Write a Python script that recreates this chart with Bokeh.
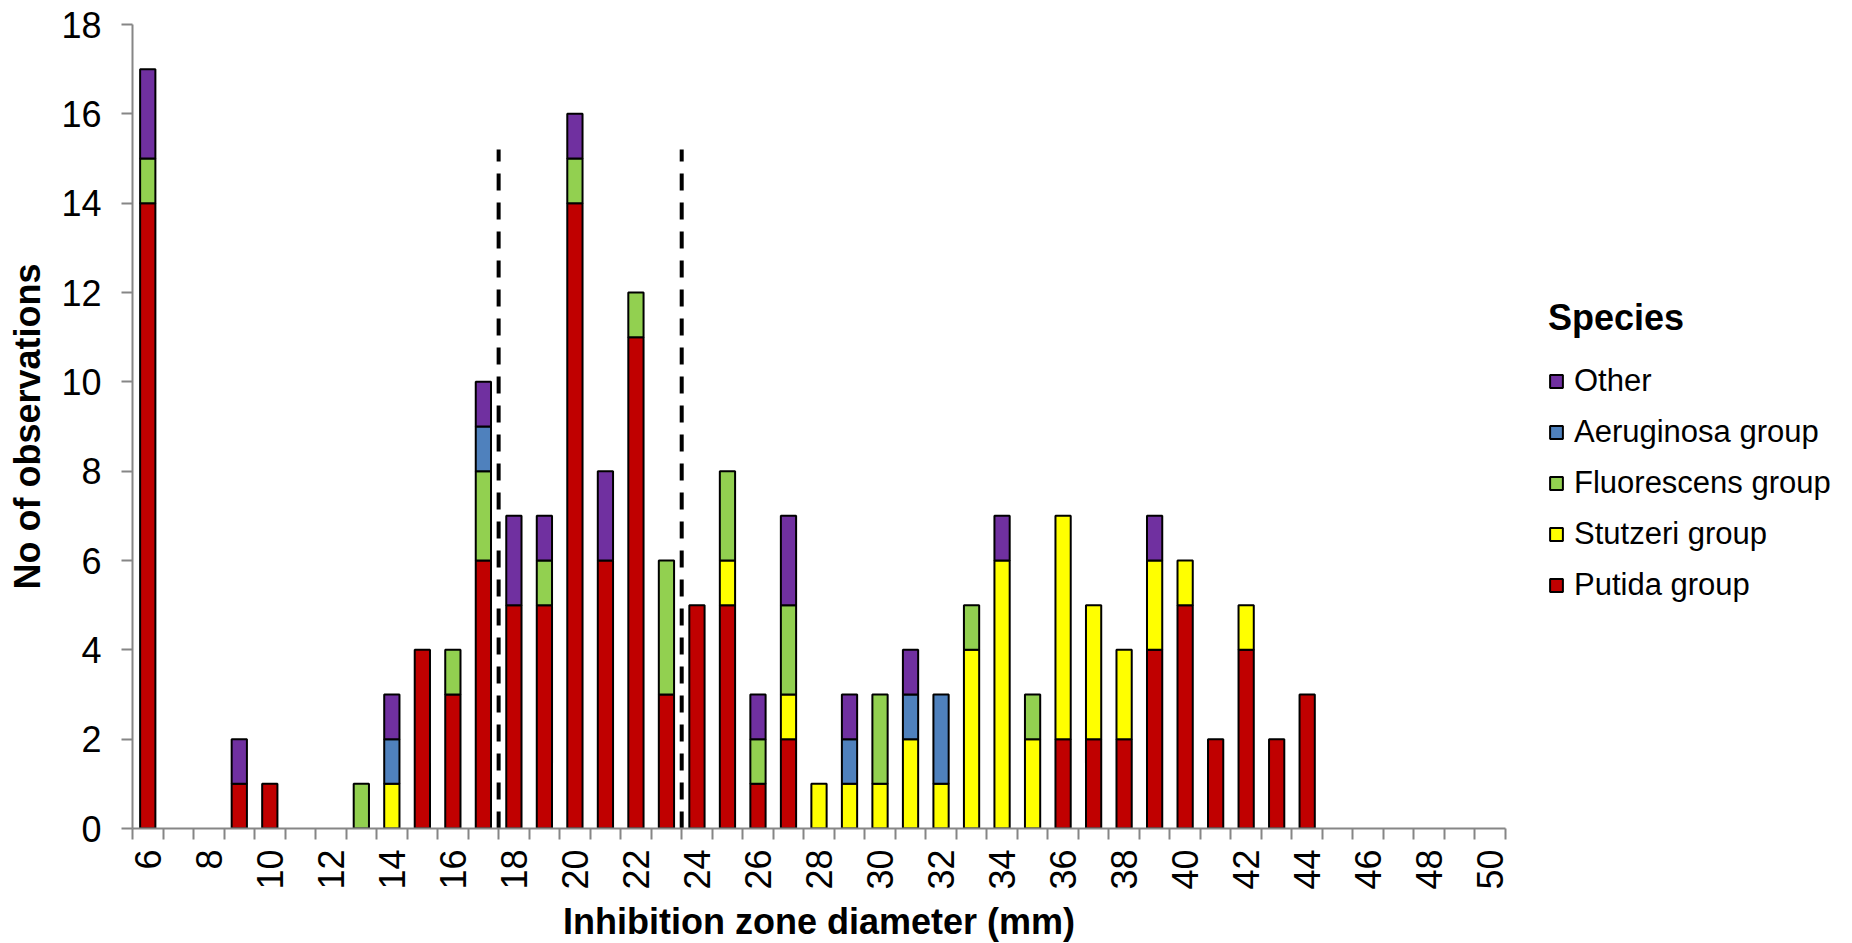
import math
from bokeh.plotting import figure
from bokeh.models import FixedTicker, Legend, LegendItem, ColumnDataSource, Range1d
from bokeh.embed import file_html
from bokeh.resources import INLINE

# ---------------- data ----------------
diameters = list(range(6, 51))  # inhibition zone diameter (mm), one category each

putida = [14, 0, 0, 1, 1, 0, 0, 0, 0, 4,
          3, 6, 5, 5, 14, 6, 11, 3, 5, 5,
          1, 2, 0, 0, 0, 0, 0, 0, 0, 0,
          2, 2, 2, 4, 5, 2, 4, 2, 3,
          0, 0, 0, 0, 0, 0]
stutzeri = [0, 0, 0, 0, 0, 0, 0, 0, 1, 0,
            0, 0, 0, 0, 0, 0, 0, 0, 0, 1,
            0, 1, 1, 1, 1, 2, 1, 4, 6, 2,
            5, 3, 2, 2, 1, 0, 1, 0, 0,
            0, 0, 0, 0, 0, 0]
fluorescens = [1, 0, 0, 0, 0, 0, 0, 1, 0, 0,
               1, 2, 0, 1, 1, 0, 1, 3, 0, 2,
               1, 2, 0, 0, 2, 0, 0, 1, 0, 1,
               0, 0, 0, 0, 0, 0, 0, 0, 0,
               0, 0, 0, 0, 0, 0]
aeruginosa = [0, 0, 0, 0, 0, 0, 0, 0, 1, 0,
              0, 1, 0, 0, 0, 0, 0, 0, 0, 0,
              0, 0, 0, 1, 0, 1, 2, 0, 0, 0,
              0, 0, 0, 0, 0, 0, 0, 0, 0,
              0, 0, 0, 0, 0, 0]
other = [2, 0, 0, 1, 0, 0, 0, 0, 1, 0,
         0, 1, 2, 1, 1, 2, 0, 0, 0, 0,
         1, 2, 0, 1, 0, 1, 0, 0, 1, 0,
         0, 0, 0, 1, 0, 0, 0, 0, 0,
         0, 0, 0, 0, 0, 0]

series_names = ["Putida group", "Stutzeri group", "Fluorescens group", "Aeruginosa group", "Other"]
series_values = [putida, stutzeri, fluorescens, aeruginosa, other]
series_colors = ["#C00000", "#FFFF00", "#92D050", "#4F81BD", "#7030A0"]

breakpoints = [17.5, 23.5]      # dashed separator positions (between categories)
breakpoint_top = 15.2

y_ticks = list(range(0, 19, 2))
x_tick_labels = diameters[::2]

FONT = "Liberation Sans"
GREY = "#868686"

# ---------------- source ----------------
data = dict(d=diameters)
keys = ["s%d" % i for i in range(len(series_names))]
for k, vals in zip(keys, series_values):
    data[k] = vals
    data["lc_" + k] = ["black" if v > 0 else "#00000000" for v in vals]
src = ColumnDataSource(data)

# ---------------- figure ----------------
p = figure(frame_width=1373, frame_height=804,
           x_range=Range1d(diameters[0] - 0.5, diameters[-1] + 0.5),
           y_range=Range1d(0, 18),
           output_backend="svg", toolbar_location=None,
           min_border_left=132, min_border_right=20,
           min_border_top=24, min_border_bottom=112)
p.outline_line_color = None
p.xgrid.visible = False
p.ygrid.visible = False
p.background_fill_color = "white"
p.border_fill_color = "white"

renderers = p.vbar_stack(keys, x="d", width=0.5, source=src,
                         fill_color=series_colors,
                         line_color=["lc_" + k for k in keys],
                         line_width=2)

p.segment(x0=breakpoints, y0=[0] * len(breakpoints),
          x1=breakpoints, y1=[breakpoint_top] * len(breakpoints),
          line_color="black", line_width=4, line_dash="17 12")

# x axis
xa = p.xaxis[0]
xa.ticker = FixedTicker(ticks=x_tick_labels,
                        minor_ticks=[d - 0.5 for d in diameters] + [diameters[-1] + 0.5])
xa.major_tick_line_color = None
xa.major_tick_out = 11
xa.major_tick_in = 0
xa.minor_tick_in = 0
xa.minor_tick_out = 11
xa.minor_tick_line_color = GREY
xa.minor_tick_line_width = 2
xa.axis_line_color = GREY
xa.axis_line_width = 2
xa.major_label_orientation = math.pi / 2
xa.major_label_text_font = FONT
xa.major_label_text_font_size = "36px"
xa.major_label_text_color = "black"
xa.major_label_standoff = 10
xa.axis_label = "Inhibition zone diameter (mm)"
xa.axis_label_text_font = FONT
xa.axis_label_text_font_size = "36px"
xa.axis_label_text_font_style = "bold"
xa.axis_label_text_color = "black"
xa.axis_label_standoff = 8

# y axis
ya = p.yaxis[0]
ya.ticker = FixedTicker(ticks=y_ticks, minor_ticks=[])
ya.major_tick_out = 11
ya.major_tick_in = 0
ya.major_tick_line_color = GREY
ya.major_tick_line_width = 2
ya.minor_tick_line_color = None
ya.axis_line_color = GREY
ya.axis_line_width = 2
ya.major_label_text_font = FONT
ya.major_label_text_font_size = "36px"
ya.major_label_text_color = "black"
ya.major_label_standoff = 20
ya.axis_label = "No of observations"
ya.axis_label_text_font = FONT
ya.axis_label_text_font_size = "36px"
ya.axis_label_text_font_style = "bold"
ya.axis_label_text_color = "black"
ya.axis_label_standoff = 10

# legend (top item = last stacked series)
items = []
for name, vals, r in reversed(list(zip(series_names, series_values, renderers))):
    idx = next(i for i, v in enumerate(vals) if v > 0)
    items.append(LegendItem(label=name, renderers=[r], index=idx))

legend = Legend(items=items, location=(43, 225), title="Species",
                title_text_font=FONT, title_text_font_size="36px",
                title_text_font_style="bold", title_text_color="black",
                title_standoff=24,
                label_text_font=FONT, label_text_font_size="31px",
                label_text_color="black",
                glyph_width=16, glyph_height=16, label_standoff=10,
                spacing=15, padding=0, margin=0,
                border_line_color=None, background_fill_alpha=0)
p.add_layout(legend, "right")

open("out.html", "w").write(file_html(p, INLINE))
